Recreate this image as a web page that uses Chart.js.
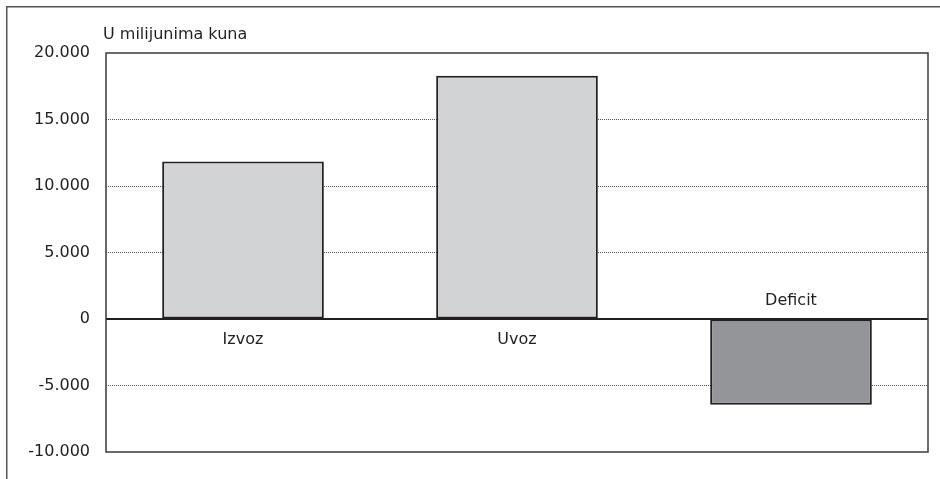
<!DOCTYPE html>
<html>
<head>
<meta charset="utf-8">
<script src="https://cdn.jsdelivr.net/npm/chart.js@4/dist/chart.umd.min.js"></script>
<style>
  html, body { margin: 0; padding: 0; background: #ffffff; }
  #wrap { width: 940px; height: 479px; }
</style>
</head>
<body>
<div id="wrap"><canvas id="c" width="940" height="479"></canvas></div>
<script>
const categories = ['Izvoz', 'Uvoz', 'Deficit'];
const values = [11850, 18290, -6440];
const barColors = ['#d1d3d4', '#d1d3d4', '#939598'];
const yMin = -10000;
const yMax = 20000;
const yStep = 5000;
const unitLabel = 'U milijunima kuna';

const FONT = '"DejaVu Sans", sans-serif';
const TEXT = '#231f20';

function fmt(v) {
  const s = Math.abs(v).toString().replace(/\B(?=(\d{3})+(?!\d))/g, '.');
  return (v < 0 ? '-' : '') + s;
}

const decor = {
  id: 'decor',
  beforeDraw(chart) {
    const ctx = chart.ctx;
    ctx.save();
    ctx.fillStyle = '#ffffff';
    ctx.fillRect(0, 0, chart.width, chart.height);
    ctx.strokeStyle = '#555555';
    ctx.lineWidth = 1.5;
    ctx.beginPath();
    ctx.moveTo(6.75, chart.height);
    ctx.lineTo(6.75, 6.75);
    ctx.lineTo(chart.width, 6.75);
    ctx.stroke();
    ctx.restore();
  },
  afterDatasetsDraw(chart) {
    const ctx = chart.ctx;
    const a = chart.chartArea;
    const y0 = chart.scales.y.getPixelForValue(0);
    ctx.save();
    ctx.strokeStyle = '#231f20';
    ctx.lineWidth = 2;
    ctx.beginPath();
    ctx.moveTo(a.left, y0);
    ctx.lineTo(a.right, y0);
    ctx.stroke();
    ctx.restore();
  },
  afterDraw(chart) {
    const ctx = chart.ctx;
    const a = chart.chartArea;
    const xs = chart.scales.x;
    const ys = chart.scales.y;
    const y0 = ys.getPixelForValue(0);
    ctx.save();
    ctx.strokeStyle = '#3a3a3a';
    ctx.lineWidth = 1.5;
    ctx.strokeRect(a.left, a.top, a.right - a.left, a.bottom - a.top);
    ctx.fillStyle = TEXT;
    ctx.font = '16px ' + FONT;
    ctx.textAlign = 'center';
    ctx.textBaseline = 'middle';
    categories.forEach((c, i) => {
      const x = xs.getPixelForValue(i);
      const y = values[i] >= 0 ? y0 + 21 : y0 - 18;
      ctx.fillText(c, x, y);
    });
    ctx.textAlign = 'left';
    ctx.fillText(unitLabel, 103, 35);
    ctx.restore();
  }
};

new Chart(document.getElementById('c'), {
  type: 'bar',
  data: {
    labels: categories,
    datasets: [{
      data: values,
      backgroundColor: barColors,
      borderColor: '#231f20',
      borderWidth: 2,
      borderSkipped: false,
      barPercentage: 0.59,
      categoryPercentage: 1.0
    }]
  },
  options: {
    responsive: false,
    animation: false,
    devicePixelRatio: 1,
    layout: { padding: { left: 0, top: 53, right: 12, bottom: 27 } },
    plugins: { legend: { display: false }, tooltip: { enabled: false }, title: { display: false } },
    scales: {
      x: { display: false },
      y: {
        min: yMin,
        max: yMax,
        afterFit(scale) { scale.width = 106; },
        ticks: {
          stepSize: yStep,
          padding: 16,
          color: TEXT,
          font: { family: FONT, size: 16 },
          callback: (v) => fmt(v)
        },
        grid: {
          drawTicks: false,
          lineWidth: 1,
          color: (ctx) => {
            const v = ctx.tick ? ctx.tick.value : null;
            if (v === 0 || v === yMin || v === yMax) return 'rgba(0,0,0,0)';
            return '#555555';
          }
        },
        border: { display: false, dash: [1, 1] }
      }
    }
  },
  plugins: [decor]
});
</script>
</body>
</html>
